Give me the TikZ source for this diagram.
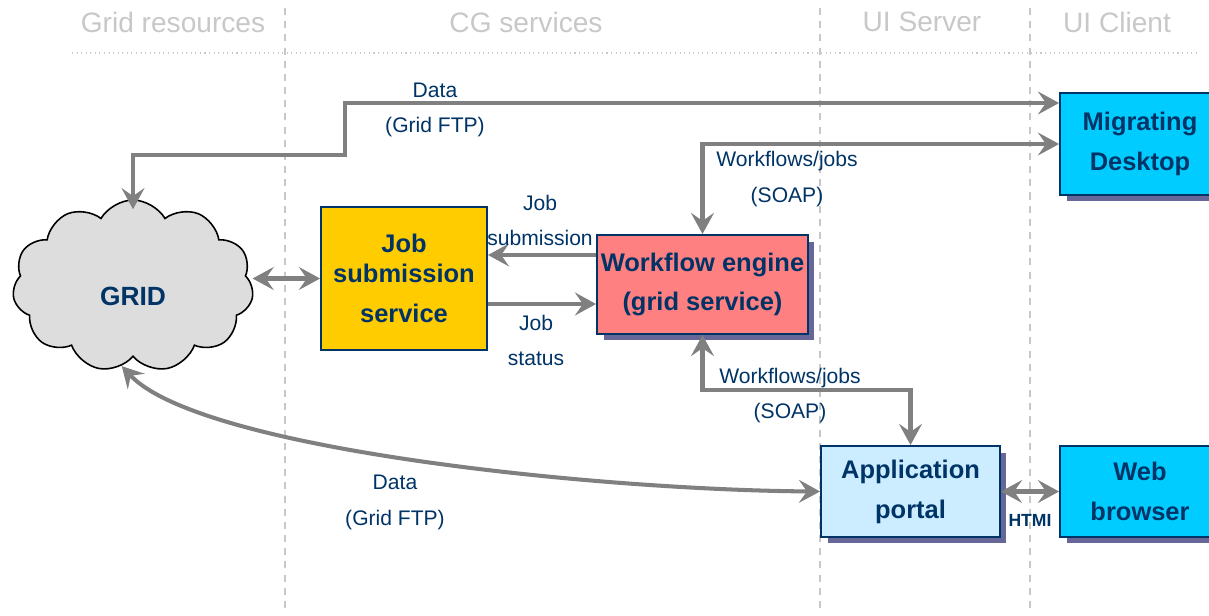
\documentclass[tikz,border=0pt]{standalone}
\usepackage{fontspec}
\setmainfont{Liberation Sans}
\usetikzlibrary{shapes,shapes.symbols,arrows.meta,shadows}
\definecolor{navy}{RGB}{0,51,102}
\definecolor{gridgray}{RGB}{221,221,221}
\definecolor{linegray}{RGB}{128,128,128}
\definecolor{sepgray}{RGB}{200,200,200}
\definecolor{jobyellow}{RGB}{255,204,0}
\definecolor{engred}{RGB}{255,128,128}
\definecolor{clientblue}{RGB}{0,204,255}
\definecolor{portalblue}{RGB}{204,236,255}
\definecolor{shadowblue}{RGB}{102,102,153}

\begin{document}
\begin{tikzpicture}[x=0.02cm,y=-0.02cm]
        \tikzstyle{box}=[rectangle,draw=navy,line width=1.1pt,text=navy,align=center,inner sep=0pt,font=\bfseries\fontsize{14.5}{22.7}\selectfont]
        \tikzstyle{shade}=[general shadow={fill=shadowblue,shadow xshift=0.13cm,shadow yshift=-0.13cm}]
        \tikzstyle{lbl}=[text=navy,align=center,inner sep=0pt,font=\fontsize{12}{20.4}\selectfont]
        \tikzstyle{head}=[text=sepgray,font=\fontsize{16}{19}\selectfont]
        \tikzstyle{sep}=[sepgray,line width=0.8pt,dash pattern=on 4pt off 3.5pt]
        \tikzstyle{link}=[linegray,line width=2.3pt,{Stealth[length=12pt,width=13pt,inset=4.5pt]}-{Stealth[length=12pt,width=13pt,inset=4.5pt]}]
        \tikzstyle{oneway}=[linegray,line width=2.3pt,-{Stealth[length=12pt,width=13pt,inset=4.5pt]}]
        \useasboundingbox (0,0) rectangle (1209,615);
        \node[head] (hres) at (173,22) {Grid resources};
        \node[head] (hcg) at (526,22) {CG services};
        \node[head] (hsrv) at (922,22) {UI Server};
        \node[head] (hcli) at (1117,22) {UI Client};
        \draw[sep] (285,8) -- (285,612);
        \draw[sep] (820,8) -- (820,612);
        \draw[sep] (1030,8) -- (1030,612);
        \draw[sepgray,dotted,line width=0.6pt] (72,53) -- (1200,53);
        \node[cloud,cloud puffs=11,cloud puff arc=120,cloud ignores aspect,draw=black,line width=0.9pt,fill=gridgray,
              minimum width=4.82cm,minimum height=3.44cm,text=navy,text height=22pt,text depth=0pt,
              font=\bfseries\fontsize{15}{18}\selectfont] (grid) at (133,286) {GRID};
        \node[box,fill=jobyellow,minimum width=3.32cm,minimum height=2.86cm] (jss) at (404,278.5) {Job\\[-5.7pt]submission\\service};
        \node[box,shade,fill=engred,minimum width=4.22cm,minimum height=1.98cm] (we) at (702.5,284.5) {Workflow engine\\(grid service)};
        \node[box,shade,fill=clientblue,minimum width=3.2cm,minimum height=2.04cm] (md) at (1140,144) {Migrating\\Desktop};
        \node[box,shade,fill=portalblue,minimum width=3.58cm,minimum height=1.82cm] (ap) at (910.5,491.5) {Application\\portal};
        \node[box,shade,fill=clientblue,minimum width=3.2cm,minimum height=1.82cm] (wb) at (1140,491.5) {Web\\browser};
        \draw[link] (md.west |- 0,103) -- (345,103) -- (345,155) -- (grid.north |- 0,155) -- ([yshift=-0.2cm]grid.north);
        \draw[link] (md.west) -- (we.north |- md.west) -- (we.north);
        \draw[link] (jss.west) -- (grid.east |- jss.west);
        \draw[oneway] (we.west |- 0,255) -- (jss.east |- 0,255);
        \draw[oneway] (jss.east |- 0,304) -- (we.west |- 0,304);
        \draw[link] (we.south) -- (we.south |- 0,390) -- (ap.north |- 0,390) -- (ap.north);
        \draw[link] (ap.west) .. controls (600,490) and (200,450) .. (grid.262);
        \draw[link] (ap.east) -- (wb.west);
        \node[lbl] (d1) at (435,110) {Data\\(Grid FTP)};
        \node[lbl] (w1) at (787,179) {Workflows/jobs\\(SOAP)};
        \node[lbl] (js) at (540,220.5) {Job\\submission};
        \node[lbl] (st) at (536,340.5) {Job\\status};
        \node[lbl] (w2) at (790,395.5) {Workflows/jobs\\(SOAP)};
        \node[lbl] (d2) at (395,502.5) {Data\\(Grid FTP)};
        \node[lbl,font=\bfseries\fontsize{10}{12}\selectfont] (html) at (1030,520) {HTMI};
\end{tikzpicture}
\end{document}
